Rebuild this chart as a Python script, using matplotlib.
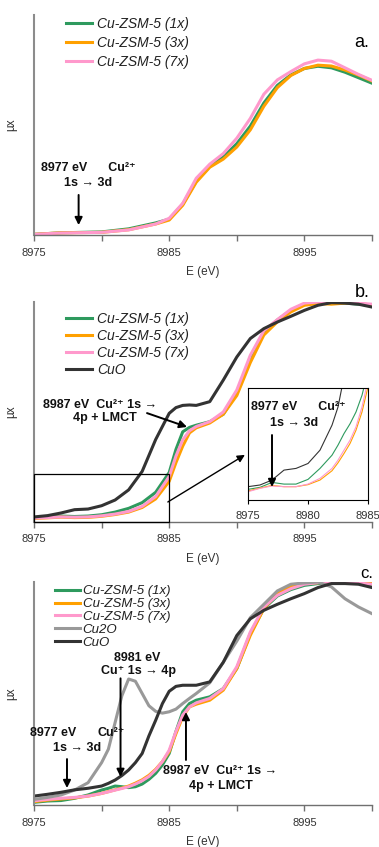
import matplotlib
matplotlib.use("Agg")
import matplotlib.pyplot as plt
from matplotlib.patches import Rectangle

plt.rcParams['font.family'] = ['Liberation Sans', 'DejaVu Sans']

# ---------------- data ----------------
x_ticks = [8975, 8980, 8985, 8990, 8995, 9000]
x_ticklabels = ['8975', '', '8985', '', '8995', '']
in_ticks = [8975, 8980, 8985]
in_ticklabels = ['8975', '8980', '8985']

labels_zsm = ['Cu-ZSM-5 (1x)', 'Cu-ZSM-5 (3x)', 'Cu-ZSM-5 (7x)']
label_cuo = 'CuO'
label_cu2o = 'Cu2O'

# panel a
E_a = [8975, 8977, 8980, 8982, 8984, 8985, 8986, 8987, 8988, 8989, 8990,
       8991, 8992, 8993, 8994, 8995, 8996, 8997, 8998, 8999, 9000]
a_1x = [0.003, 0.010, 0.014, 0.028, 0.055, 0.072, 0.140, 0.245, 0.312, 0.355, 0.415,
        0.495, 0.600, 0.680, 0.728, 0.757, 0.767, 0.760, 0.740, 0.715, 0.690]
a_3x = [0.003, 0.010, 0.012, 0.024, 0.050, 0.068, 0.135, 0.240, 0.308, 0.345, 0.400,
        0.478, 0.585, 0.670, 0.725, 0.757, 0.772, 0.768, 0.750, 0.727, 0.700]
a_7x = [0.003, 0.009, 0.012, 0.023, 0.050, 0.076, 0.144, 0.258, 0.322, 0.370, 0.440,
        0.530, 0.640, 0.705, 0.743, 0.778, 0.795, 0.790, 0.760, 0.730, 0.703]

# panel b
E_b = [8975, 8976, 8977, 8978, 8979, 8980, 8981, 8982, 8983, 8984, 8985, 8985.5,
       8986, 8986.5, 8987, 8988, 8989, 8990, 8991, 8992, 8993, 8994, 8995, 8996,
       8997, 8998, 8999, 9000]
b_1x = [0.020, 0.023, 0.027, 0.025, 0.027, 0.033, 0.045, 0.062, 0.088, 0.135, 0.225, 0.330,
        0.410, 0.430, 0.440, 0.456, 0.490, 0.585, 0.745, 0.865, 0.918, 0.962, 0.990, 0.998,
        0.995, 0.995, 0.990, 0.985]
b_3x = [0.016, 0.019, 0.022, 0.020, 0.021, 0.026, 0.034, 0.045, 0.066, 0.105, 0.185, 0.270,
        0.345, 0.405, 0.428, 0.450, 0.490, 0.575, 0.725, 0.850, 0.910, 0.955, 0.985, 0.993,
        0.990, 0.995, 0.995, 0.985]
b_7x = [0.018, 0.020, 0.023, 0.022, 0.023, 0.028, 0.036, 0.048, 0.071, 0.116, 0.207, 0.300,
        0.373, 0.415, 0.434, 0.456, 0.500, 0.600, 0.758, 0.870, 0.920, 0.967, 0.995, 1.000,
        0.998, 0.998, 0.995, 0.990]
b_cuo = [0.023, 0.029, 0.041, 0.056, 0.059, 0.074, 0.100, 0.146, 0.230, 0.375, 0.494, 0.520,
         0.530, 0.532, 0.530, 0.547, 0.645, 0.750, 0.834, 0.879, 0.909, 0.935, 0.962, 0.985,
         0.997, 0.995, 0.990, 0.977]

# inset of panel b
E_in = [8975, 8976, 8977, 8978, 8979, 8980, 8981, 8982, 8982.5, 8983, 8983.5, 8984, 8984.5, 8985]
in_1x = [0.095, 0.113, 0.157, 0.142, 0.142, 0.184, 0.282, 0.400, 0.490, 0.593, 0.680, 0.786, 0.935, 1.150]
in_3x = [0.080, 0.107, 0.130, 0.119, 0.119, 0.137, 0.178, 0.261, 0.332, 0.415, 0.504, 0.623, 0.786, 1.010]
in_7x = [0.074, 0.104, 0.125, 0.119, 0.119, 0.142, 0.193, 0.282, 0.356, 0.445, 0.534, 0.653, 0.830, 1.070]
in_cuo = [0.119, 0.134, 0.178, 0.267, 0.282, 0.326, 0.445, 0.668, 0.830, 1.100, 1.300, 1.500, 1.700, 1.900]

# panel c
E_c = [8975, 8976, 8977, 8978, 8979, 8980, 8980.5, 8981, 8981.5, 8982, 8982.5, 8983,
       8983.5, 8984, 8984.5, 8985, 8985.5, 8986, 8986.5, 8987, 8988, 8989, 8990, 8991,
       8992, 8993, 8994, 8995, 8996, 8997, 8998, 8999, 9000]
c_1x = [0.012, 0.018, 0.020, 0.030, 0.045, 0.067, 0.075, 0.085, 0.082, 0.078, 0.082, 0.094,
        0.115, 0.142, 0.180, 0.231, 0.330, 0.418, 0.455, 0.470, 0.485, 0.522, 0.612, 0.769,
        0.881, 0.937, 0.966, 0.985, 0.993, 0.997, 0.996, 0.993, 0.985]
c_3x = [0.015, 0.022, 0.027, 0.032, 0.040, 0.052, 0.060, 0.068, 0.076, 0.085, 0.098, 0.113,
        0.133, 0.160, 0.195, 0.239, 0.320, 0.396, 0.440, 0.452, 0.470, 0.515, 0.612, 0.761,
        0.881, 0.948, 0.979, 0.994, 0.997, 1.000, 0.998, 0.997, 0.993]
c_7x = [0.019, 0.025, 0.030, 0.034, 0.040, 0.052, 0.059, 0.067, 0.074, 0.082, 0.094, 0.109,
        0.128, 0.157, 0.195, 0.246, 0.330, 0.403, 0.440, 0.458, 0.478, 0.522, 0.620, 0.776,
        0.888, 0.940, 0.970, 0.990, 0.997, 1.000, 0.998, 0.995, 0.990]
c_cu2o = [0.025, 0.034, 0.045, 0.067, 0.100, 0.190, 0.250, 0.370, 0.490, 0.565, 0.555, 0.500,
          0.445, 0.420, 0.412, 0.418, 0.430, 0.455, 0.478, 0.500, 0.548, 0.640, 0.735, 0.840,
          0.900, 0.960, 0.990, 0.996, 1.000, 0.978, 0.925, 0.888, 0.858]
c_cuo = [0.040, 0.048, 0.057, 0.068, 0.075, 0.085, 0.097, 0.112, 0.132, 0.157, 0.190, 0.231,
         0.310, 0.380, 0.455, 0.510, 0.532, 0.537, 0.537, 0.537, 0.552, 0.640, 0.760, 0.835,
         0.873, 0.900, 0.925, 0.948, 0.975, 0.993, 0.993, 0.990, 0.975]

# ---------------- styling ----------------
C_1X = '#2e9a5e'
C_3X = '#ffa000'
C_7X = '#ff99cc'
C_CUO = '#333333'
C_CU2O = '#999999'

W, H = 379, 847
fig = plt.figure(figsize=(W / 100, H / 100), dpi=100)


def axrect(l, t, r, b):
    return [l / W, 1 - b / H, (r - l) / W, (b - t) / H]


ax_a = fig.add_axes(axrect(34, 15, 372, 235))
ax_b = fig.add_axes(axrect(34, 302, 372, 522))
ax_c = fig.add_axes(axrect(34, 582, 372, 805))


def style(ax):
    ax.set_xlim(8975, 9000)
    ax.set_ylim(0, 1)
    for s in ['top', 'right']:
        ax.spines[s].set_visible(False)
    ax.spines['left'].set_color('#8c8c8c')
    ax.spines['left'].set_linewidth(1.5)
    ax.spines['bottom'].set_color('#707070')
    ax.spines['bottom'].set_linewidth(1.0)
    ax.set_yticks([])
    ax.set_xticks(x_ticks)
    ax.set_xticklabels(x_ticklabels)
    ax.tick_params(axis='x', direction='out', length=4, width=1, color='#707070',
                   labelsize=8, labelcolor='#333333', pad=5)
    ax.set_xlabel('E (eV)', fontsize=8.5, labelpad=6, color='#333333')
    ax.set_ylabel('µx', fontsize=8.5, labelpad=12, color='#333333')


LW = 2.2
arrow_kw = dict(arrowstyle='-|>', color='black', lw=1.4, mutation_scale=11,
                shrinkA=0, shrinkB=0)
bold = dict(fontsize=9, fontweight='bold', color='#111111')


def arrow(ax, tip, tail, **kw):
    props = dict(arrow_kw)
    props.update(kw)
    ax.annotate('', xy=tip, xytext=tail, arrowprops=props)


def italic_legend(ax, anchor, fs, ls, htp, hl=1.9):
    leg = ax.legend(loc='upper left', bbox_to_anchor=anchor,
                    bbox_transform=fig.transFigure, frameon=False, fontsize=fs,
                    handlelength=hl, handletextpad=htp, labelspacing=ls,
                    borderpad=0, borderaxespad=0)
    for t in leg.get_texts():
        t.set_fontstyle('italic')
        t.set_color('#222222')
    return leg


# ---------- panel a ----------
style(ax_a)
ax_a.plot(E_a, a_1x, color=C_1X, lw=LW, label=labels_zsm[0])
ax_a.plot(E_a, a_3x, color=C_3X, lw=LW, label=labels_zsm[1])
ax_a.plot(E_a, a_7x, color=C_7X, lw=LW, label=labels_zsm[2])
italic_legend(ax_a, (66 / W, 1 - 17 / H), 10, 0.35, 0.35)
ax_a.text(0.97, 0.873, 'a.', transform=ax_a.transAxes, fontsize=13,
          ha='center', va='center')
ax_a.text(8975.5, 0.305, '8977 eV      Cu²⁺', ha='left', va='center', **bold)
ax_a.text(8979.0, 0.236, '1s → 3d', ha='center', va='center', **bold)
arrow(ax_a, (8978.3, 0.045), (8978.3, 0.182))

# ---------- panel b ----------
style(ax_b)
ax_b.plot(E_b, b_1x, color=C_1X, lw=LW, label=labels_zsm[0])
ax_b.plot(E_b, b_3x, color=C_3X, lw=LW, label=labels_zsm[1])
ax_b.plot(E_b, b_7x, color=C_7X, lw=LW, label=labels_zsm[2])
ax_b.plot(E_b, b_cuo, color=C_CUO, lw=LW, label=label_cuo)
italic_legend(ax_b, (66 / W, 1 - 312 / H), 10, 0.22, 0.35)
ax_b.text(0.97, 1.045, 'b.', transform=ax_b.transAxes, fontsize=13,
          ha='center', va='center')
ax_b.text(8975.67, 0.532, '8987 eV  Cu²⁺ 1s →', ha='left', va='center', **bold)
ax_b.text(8980.25, 0.473, '4p + LMCT', ha='center', va='center', **bold)
arrow(ax_b, (8986.32, 0.432), (8983.36, 0.495))
ax_b.add_patch(Rectangle((8975, 0), 10, 0.218, fill=False, ec='black', lw=0.9,
                         clip_on=False, zorder=5))
arrow(ax_b, (8990.6, 0.305), (8984.9, 0.091), lw=1.0)

# inset
ax_in = fig.add_axes(axrect(248, 388, 368, 500))
ax_in.set_xlim(8975, 8985)
ax_in.set_ylim(0, 1)
for s in ax_in.spines.values():
    s.set_color('black')
    s.set_linewidth(0.8)
ax_in.set_yticks([])
ax_in.set_xticks(in_ticks)
ax_in.set_xticklabels(in_ticklabels)
ax_in.tick_params(axis='x', direction='out', length=3, width=0.8, labelsize=8,
                  labelcolor='#333333', pad=5)
ax_in.plot(E_in, in_1x, color=C_1X, lw=0.8)
ax_in.plot(E_in, in_3x, color=C_3X, lw=0.8)
ax_in.plot(E_in, in_7x, color=C_7X, lw=0.8)
ax_in.plot(E_in, in_cuo, color=C_CUO, lw=0.8)
ax_in.text(8975.25, 0.83, '8977 eV      Cu²⁺', ha='left', va='center', **bold)
ax_in.text(8978.8, 0.69, '1s → 3d', ha='center', va='center', **bold)
arrow(ax_in, (8977.0, 0.116), (8977.0, 0.58))

# ---------- panel c ----------
style(ax_c)
ax_c.plot(E_c, c_1x, color=C_1X, lw=LW, label=labels_zsm[0])
ax_c.plot(E_c, c_3x, color=C_3X, lw=LW, label=labels_zsm[1])
ax_c.plot(E_c, c_7x, color=C_7X, lw=LW, label=labels_zsm[2])
ax_c.plot(E_c, c_cu2o, color=C_CU2O, lw=LW, label=label_cu2o)
ax_c.plot(E_c, c_cuo, color=C_CUO, lw=LW, label=label_cuo)
italic_legend(ax_c, (55 / W, 1 - 585 / H), 9.5, 0.05, 0.2, hl=1.9)
ax_c.text(0.985, 1.04, 'c.', transform=ax_c.transAxes, fontsize=12,
          ha='center', va='center')
ax_c.text(8982.6, 0.658, '8981 eV', ha='center', va='center', **bold)
ax_c.text(8982.7, 0.603, 'Cu⁺ 1s → 4p', ha='center', va='center', **bold)
arrow(ax_c, (8981.4, 0.126), (8981.4, 0.568))
ax_c.text(8974.7, 0.323, '8977 eV', ha='left', va='center', **bold)
ax_c.text(8979.66, 0.323, 'Cu²⁺', ha='left', va='center', **bold)
ax_c.text(8978.2, 0.256, '1s → 3d', ha='center', va='center', **bold)
arrow(ax_c, (8977.44, 0.076), (8977.44, 0.206))
ax_c.text(8984.54, 0.152, '8987 eV  Cu²⁺ 1s →', ha='left', va='center', **bold)
ax_c.text(8988.8, 0.085, '4p + LMCT', ha='center', va='center', **bold)
arrow(ax_c, (8986.24, 0.417), (8986.24, 0.202))

fig.savefig('out.png', dpi=100)
